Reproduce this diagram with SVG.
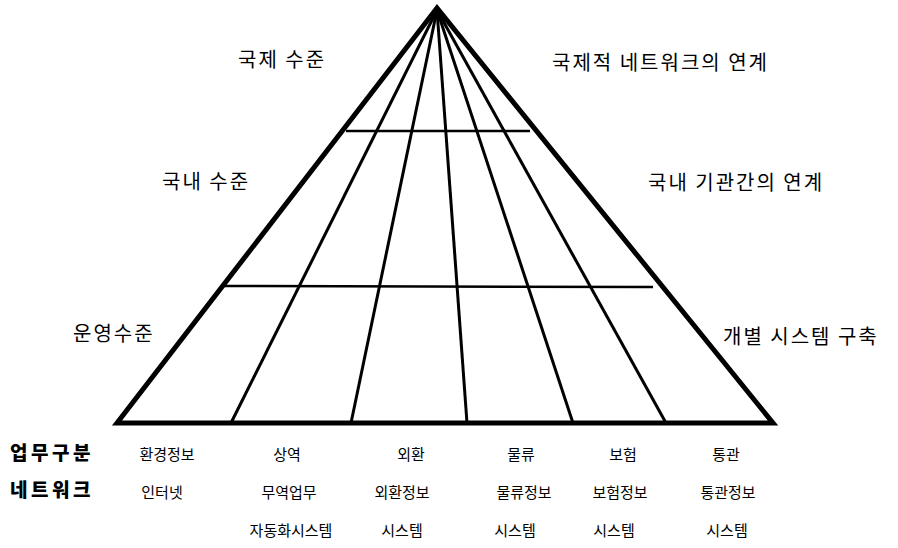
<svg xmlns="http://www.w3.org/2000/svg" width="898" height="548" viewBox="0 0 898 548">
  <style>
    .lvl { font-family: "Noto Sans CJK KR", "Noto Sans", sans-serif; font-size: 20px; letter-spacing: 2px; fill: #000; }
    .hdr { font-family: "Noto Sans CJK KR", "Noto Sans", sans-serif; font-size: 19px; font-weight: 900; letter-spacing: 3.5px; fill: #000; }
    .cat { font-family: "Noto Sans CJK KR", "Noto Sans", sans-serif; font-size: 15px; fill: #000; text-anchor: middle; }
    .outer { stroke: #000; stroke-width: 5; fill: none; stroke-linejoin: miter; }
    .inner { stroke: #000; stroke-width: 3; fill: none; }
    .grid { stroke: #000; stroke-width: 2.5; fill: none; }
  </style>
  <rect width="898" height="548" fill="#fff"/>

  <g id="pyramid">
    <path class="outer" d="M117,423 L437,8 L773,423 Z"/>
  </g>

  <g id="connectors">
    <line class="inner" x1="437" y1="10" x2="231" y2="423"/>
    <line class="inner" x1="437" y1="10" x2="351" y2="423"/>
    <line class="inner" x1="437" y1="10" x2="467" y2="423"/>
    <line class="inner" x1="437" y1="10" x2="573" y2="423"/>
    <line class="inner" x1="437" y1="10" x2="666" y2="423"/>
    <line class="grid" x1="346" y1="131" x2="530" y2="131"/>
    <line class="grid" x1="224" y1="286" x2="653" y2="287"/>
  </g>

  <g id="level-labels">
    <text class="lvl" x="238" y="67">국제 수준</text>
    <text class="lvl" x="162" y="189">국내 수준</text>
    <text class="lvl" x="73" y="341">운영수준</text>
    <text class="lvl" x="552" y="70">국제적 네트워크의 연계</text>
    <text class="lvl" x="648" y="190">국내 기관간의 연계</text>
    <text class="lvl" x="723" y="344">개별 시스템 구축</text>
  </g>

  <g id="row-headers">
    <text class="hdr" x="10" y="460">업무구분</text>
    <text class="hdr" x="10" y="497">네트워크</text>
  </g>

  <g id="col-env">
    <text class="cat" x="167" y="460">환경정보</text>
    <text class="cat" x="162" y="498">인터넷</text>
  </g>
  <g id="col-trade">
    <text class="cat" x="287" y="460">상역</text>
    <text class="cat" x="289" y="498">무역업무</text>
    <text class="cat" x="291" y="536">자동화시스템</text>
  </g>
  <g id="col-fx">
    <text class="cat" x="411" y="460">외환</text>
    <text class="cat" x="402" y="498">외환정보</text>
    <text class="cat" x="402" y="536">시스템</text>
  </g>
  <g id="col-logistics">
    <text class="cat" x="521" y="460">물류</text>
    <text class="cat" x="524" y="498">물류정보</text>
    <text class="cat" x="515" y="536">시스템</text>
  </g>
  <g id="col-insurance">
    <text class="cat" x="623" y="460">보험</text>
    <text class="cat" x="620" y="498">보험정보</text>
    <text class="cat" x="614" y="536">시스템</text>
  </g>
  <g id="col-customs">
    <text class="cat" x="726" y="460">통관</text>
    <text class="cat" x="728" y="498">통관정보</text>
    <text class="cat" x="727" y="536">시스템</text>
  </g>
</svg>
